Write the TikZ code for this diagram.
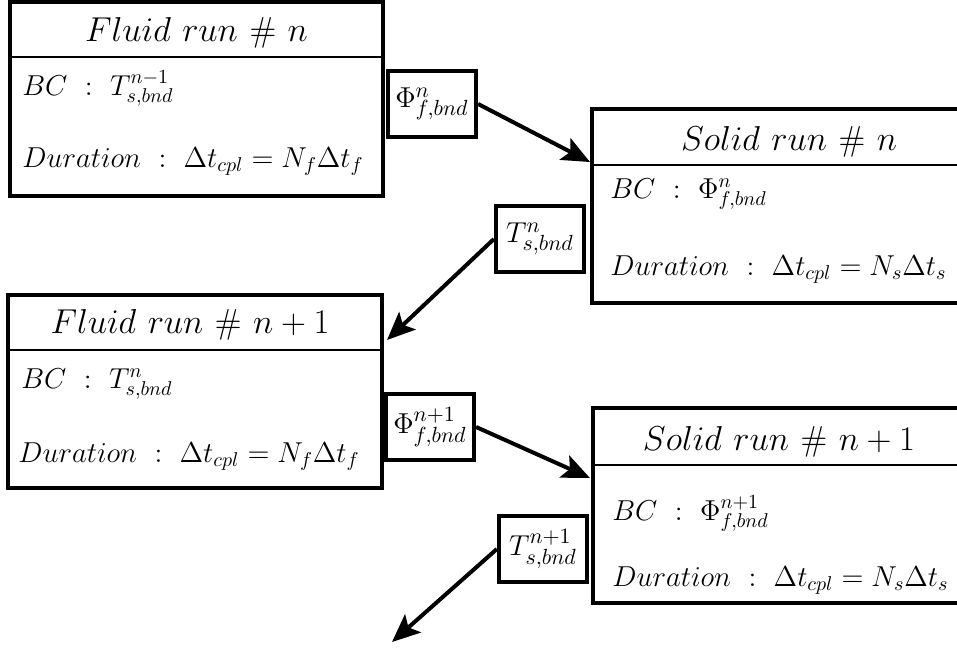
\documentclass[tikz,border=0pt]{standalone}
\usetikzlibrary{arrows.meta}
\begin{document}
\begin{tikzpicture}[x=0.5pt,y=-0.5pt,
  bigbox/.style={draw, line width=2.1pt, rectangle, inner sep=0pt},
  smallbox/.style={draw, line width=2.1pt, rectangle, minimum width=44pt, minimum height=33pt, inner sep=0pt},
  conn/.style={line width=2pt, -{Stealth[length=14pt,width=12pt,inset=3pt]}},
  divline/.style={line width=0.9pt},
  titletext/.style={anchor=base, inner sep=0pt, font=\fontsize{19}{22}\selectfont},
  bodytext/.style={anchor=base west, font=\fontsize{14.4}{17}\selectfont, inner sep=0pt},
  labtext/.style={font=\fontsize{15.5}{18}\selectfont}]
\useasboundingbox (0,0) rectangle (957,648);
\clip (0,0) rectangle (957,648);
% Fluid run n
\node[bigbox, minimum width=186.5pt, minimum height=97pt] (f1) at (196.5,99) {};
\draw[divline] (f1.west |- 0,57) -- (f1.east |- 0,57);
\node[titletext] (f1t) at (196.5,41) {$Fluid\ run\ \#\ n$};
\node[bodytext] (f1bc) at (22,95) {$BC\ :\ T^{n-1}_{s,bnd}$};
\node[bodytext] (f1du) at (22,167) {$Duration\ :\ \Delta t_{cpl} = N_f\Delta t_f$};
% Solid run n
\node[bigbox, minimum width=197pt, minimum height=97pt] (s1) at (789,206) {};
\draw[divline] (s1.west |- 0,165) -- (s1.east |- 0,165);
\node[titletext] (s1t) at (789,150) {$Solid\ run\ \#\ n$};
\node[bodytext] (s1bc) at (610,198) {$BC\ :\ \Phi^{n}_{f,bnd}$};
\node[bodytext] (s1du) at (610,275) {$Duration\ :\ \Delta t_{cpl} = N_s\Delta t_s$};
% Fluid run n+1
\node[bigbox, minimum width=187pt, minimum height=96.5pt] (f2) at (195,391.5) {};
\draw[divline] (f2.west |- 0,350) -- (f2.east |- 0,350);
\node[titletext] (f2t) at (190,333) {$Fluid\ run\ \#\ n+1$};
\node[bodytext] (f2bc) at (21,388) {$BC\ :\ T^{n}_{s,bnd}$};
\node[bodytext] (f2du) at (18,462) {$Duration\ :\ \Delta t_{cpl} = N_f\Delta t_f$};
% Solid run n+1
\node[bigbox, minimum width=186pt, minimum height=97.5pt] (s2) at (779,505.5) {};
\draw[divline] (s2.west |- 0,465) -- (s2.east |- 0,465);
\node[titletext] (s2t) at (779,450) {$Solid\ run\ \#\ n+1$};
\node[bodytext] (s2bc) at (612,520) {$BC\ :\ \Phi^{n+1}_{f,bnd}$};
\node[bodytext] (s2du) at (612,586) {$Duration\ :\ \Delta t_{cpl} = N_s\Delta t_s$};
% exchanged quantities
\node[smallbox, labtext] (p1) at (432,104) {$\Phi^{n}_{f,bnd}$};
\node[smallbox, labtext] (t1) at (540,239) {$T^{n}_{s,bnd}$};
\node[smallbox, labtext] (p2) at (430,427) {$\Phi^{n+1}_{f,bnd}$};
\node[smallbox, labtext] (t2) at (543,549) {$T^{n+1}_{s,bnd}$};
% arrow ends
\coordinate (s1in) at (590,162);
\coordinate (f2in) at (387,340);
\coordinate (s2in) at (590,478);
\coordinate (f3in) at (392,642);
\draw[conn] (p1.east) -- (s1in);
\draw[conn] (t1.west) -- (f2in);
\draw[conn] (p2.east) -- (s2in);
\draw[conn] (t2.west) -- (f3in);
\end{tikzpicture}
\end{document}
